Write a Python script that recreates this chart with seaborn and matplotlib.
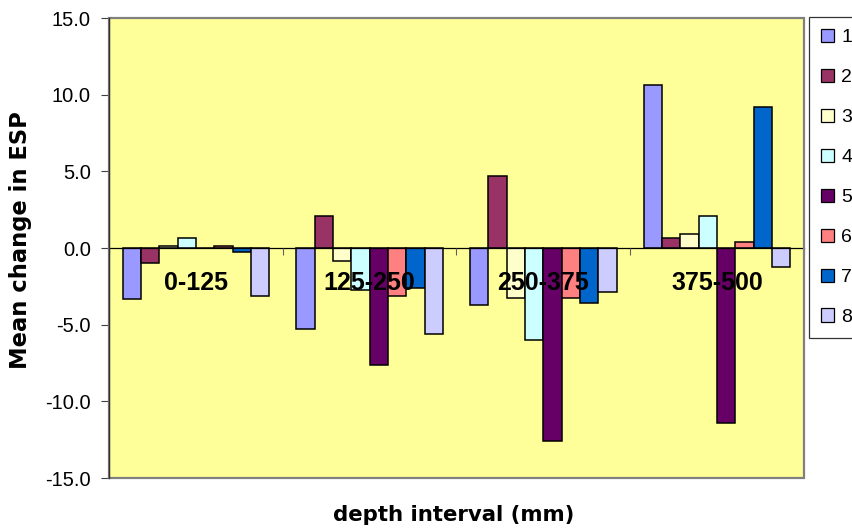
import numpy as np
import pandas as pd
import matplotlib
matplotlib.use("Agg")
import matplotlib.pyplot as plt
from matplotlib.patches import Patch, Rectangle
import seaborn as sns

# Depth intervals and the mean change in ESP for each of the eight series
categories = ["0-125", "125-250", "250-375", "375-500"]
series_names = ["1", "2", "3", "4", "5", "6", "7", "8"]
series_1 = [-3.35, -5.25, -3.72, 10.6]
series_2 = [-1.0, 2.1, 4.72, 0.63]
series_3 = [0.1, -0.87, -3.26, 0.89]
series_4 = [0.63, -2.74, -5.98, 2.1]
series_5 = [0.0, -7.61, -12.57, -11.43]
series_6 = [0.1, -3.13, -3.26, 0.37]
series_7 = [-0.24, -2.61, -3.61, 9.17]
series_8 = [-3.15, -5.61, -2.87, -1.26]
y_ticks = [-15, -10, -5, 0, 5, 10, 15]

colors = ["#9999FF", "#993366", "#FFFFCC", "#CCFFFF",
          "#660066", "#FF8080", "#0066CC", "#CCCCFF"]

all_series = [series_1, series_2, series_3, series_4,
              series_5, series_6, series_7, series_8]
df = pd.DataFrame({
    "interval": np.tile(categories, len(series_names)),
    "series": np.repeat(series_names, len(categories)),
    "value": np.concatenate(all_series),
})

plt.rcParams["font.family"] = ["Liberation Sans", "DejaVu Sans"]

fig = plt.figure(figsize=(8.53, 5.30), dpi=100)
ax = fig.add_axes([109 / 853, 52 / 530, 695 / 853, 460 / 530])
ax.set_facecolor("#FFFF99")

sns.barplot(data=df, x="interval", y="value", hue="series",
            order=categories, hue_order=series_names,
            palette=colors, width=0.844, gap=0, dodge=True,
            edgecolor="black", linewidth=1.1, saturation=1,
            errorbar=None, legend=False, ax=ax)

ax.set_ylim(-15, 15)
ax.set_xlim(-0.5, 3.5)
ax.set_yticks(y_ticks)
ax.set_yticklabels([f"{t:.1f}" for t in y_ticks], fontsize=14.5)
ax.tick_params(axis="y", direction="out", length=6, width=0.8,
               color="#404040", pad=7)

# Category axis runs along zero, with labels just beneath it
ax.spines["bottom"].set_position(("data", 0))
ax.spines["bottom"].set_color("black")
ax.spines["bottom"].set_linewidth(0.9)
ax.set_xticks(range(len(categories)))
ax.set_xticklabels(categories, fontsize=18, fontweight="bold")
ax.tick_params(axis="x", which="major", length=0, pad=16.5)
ax.set_xticks(np.arange(-0.5, len(categories), 1.0), minor=True)
ax.tick_params(axis="x", which="minor", direction="out", length=5,
               width=0.8, color="#606060")
ax.set_axisbelow(False)

for side in ("top", "right"):
    ax.spines[side].set_visible(False)
ax.spines["left"].set_color("#303030")
ax.spines["left"].set_linewidth(1.0)
ax.spines["left"].set_zorder(5)

# Plot-area border
ax.add_patch(Rectangle((0, 0), 1, 1, transform=ax.transAxes, fill=False,
                       edgecolor="#808080", linewidth=1.6, clip_on=False,
                       zorder=4))

ax.set_xlabel("depth interval (mm)", fontsize=15.3, fontweight="bold",
              family="DejaVu Sans", va="top")
ax.xaxis.set_label_coords(0.496, -0.059)
ax.set_ylabel("Mean change in ESP", fontsize=16.3, fontweight="bold",
              family="DejaVu Sans")
ax.yaxis.set_label_coords(-0.111, 0.517)

handles = [Patch(facecolor=c, edgecolor="black", linewidth=0.9)
           for c in colors]
leg = fig.legend(handles, series_names, loc="upper left",
                 bbox_to_anchor=(809 / 853, 1 - 17 / 530),
                 frameon=True, fancybox=False, fontsize=14,
                 handlelength=0.7, handleheight=0.7, handletextpad=0.35,
                 labelspacing=1.15, borderpad=0.6, borderaxespad=0)
leg.get_frame().set_edgecolor("black")
leg.get_frame().set_linewidth(0.9)

fig.savefig("out.png", dpi=100)
